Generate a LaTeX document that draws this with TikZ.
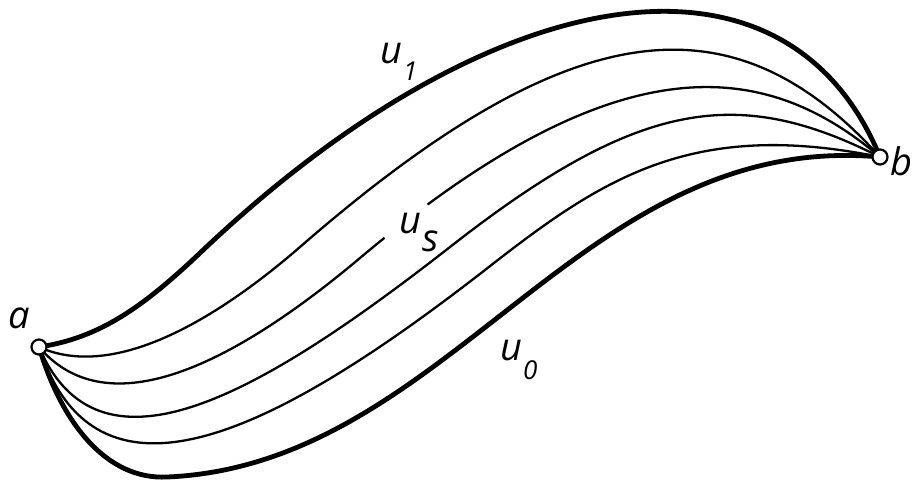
\documentclass[tikz,border=0pt]{standalone}
\usepackage{fontspec}
\setmainfont{Open Sans}
\pgfdeclarelayer{bg}
\pgfsetlayers{bg,main}
\begin{document}
\begin{tikzpicture}[x=1pt,y=-1pt,
  thickcurve/.style={line width=4.8pt,line cap=round},
  thincurve/.style={line width=2.3pt,line cap=round},
  endpt/.style={circle,draw,fill=white,line width=2.2pt,minimum size=15pt,inner sep=0pt},
  lab/.style={anchor=base west,inner sep=0pt,font=\fontsize{38}{40}\selectfont\itshape}]
\useasboundingbox (0,0) rectangle (914,482);
\node[endpt] (a) at (39,347) {};
\node[endpt] (b) at (880,157) {};
\begin{pgfonlayer}{bg}
% u1
\draw[thickcurve] (a.center) .. controls (99,338) and (142,308) .. (200,253)
  .. controls (490,-23) and (785,-73) .. (b.center);
% thin 1
\draw[thincurve] (a.center) .. controls (121,384) and (232,306) .. (300,247)
  .. controls (571,11) and (733,-6) .. (b.center);
% thin 2 (interrupted by the label u_s)
\draw[thincurve] (a.center) .. controls (104,423) and (222,374) .. (360,258)
  .. controls (620,39) and (766,60) .. (b.center)
  coordinate[pos=0.032] (g1) coordinate[pos=0.09] (g2);
\draw[white,line width=6pt] (g1) -- (g2);
% thin 3
\draw[thincurve] (a.center) .. controls (98,485) and (253,401) .. (450,247)
  .. controls (639,99) and (738,85) .. (b.center);
% thin 4
\draw[thincurve] (a.center) .. controls (95,518) and (264,442) .. (485,270)
  .. controls (600,180) and (690,118) .. (b.center);
% u0
\draw[thickcurve] (a.center) .. controls (62,424) and (107,480) .. (167,477)
  .. controls (450,465) and (580,130) .. (b.center);
\end{pgfonlayer}
\node[lab] (la) at (8,328) {a};
\node[lab,anchor=base east] (lb) at (913,175) {b};
\node[lab] (lu1) at (380,63) {u\kern1pt\raisebox{-0.45em}{\fontsize{26}{26}\selectfont 1}};
\node[lab] (lus) at (399,233) {u\kern1pt\raisebox{-0.48em}{s}};
\node[lab] (lu0) at (500,360) {u\kern1pt\raisebox{-0.5em}{\fontsize{26}{26}\selectfont 0}};
\end{tikzpicture}
\end{document}
